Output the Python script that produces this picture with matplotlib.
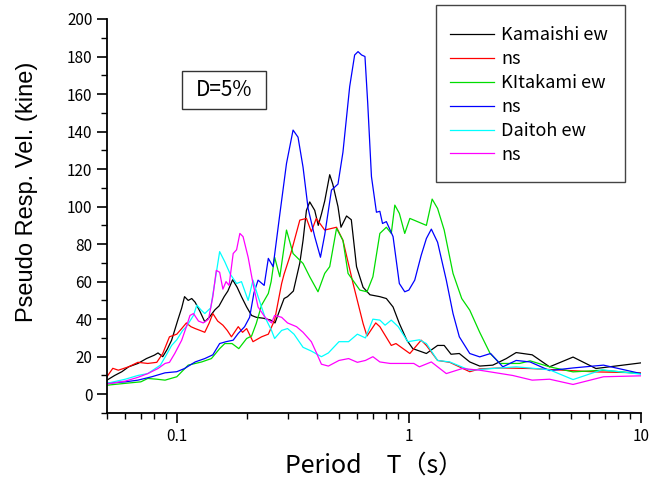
import numpy as np
import matplotlib
matplotlib.use("Agg")
import matplotlib.pyplot as plt
from matplotlib.patches import Rectangle
from matplotlib.ticker import MultipleLocator, FixedLocator, FixedFormatter, LogLocator, NullFormatter

plt.rcParams['font.family'] = ['Noto Sans CJK JP', 'DejaVu Sans']

# Kamaishi ew
t_kam_ew = [0.05, 0.054, 0.058, 0.062, 0.068, 0.074, 0.080, 0.083, 0.087, 0.091, 0.095,
            0.101, 0.105, 0.108, 0.112, 0.116, 0.12, 0.126, 0.132, 0.138, 0.146, 0.152,
            0.16, 0.166, 0.174, 0.182, 0.19, 0.2, 0.21, 0.22, 0.236, 0.254, 0.265, 0.278,
            0.29, 0.3, 0.318, 0.339, 0.35, 0.362, 0.374, 0.393, 0.407, 0.42, 0.434, 0.456,
            0.47, 0.495, 0.51, 0.539, 0.565, 0.595, 0.635, 0.68, 0.75, 0.8, 0.855, 0.91,
            0.98, 1.04, 1.19, 1.33, 1.42, 1.52, 1.65, 1.83, 2.02, 2.3, 2.63, 2.9, 3.4,
            4.04, 5.1, 6.4, 10.0]
v_kam_ew = [7.5, 10, 12, 14.6, 16.4, 19, 20.8, 22, 20, 24, 28.8,
            39.5, 46, 52, 50, 51, 49, 44, 38.6, 41, 45, 47,
            52, 55, 61, 57, 52, 46.5, 42, 41, 40.5, 39.5, 38, 45,
            51, 52, 55, 70, 82, 98, 102.5, 98, 90, 96, 103, 117,
            112, 100, 89, 95, 93, 68, 57, 53, 52, 51, 46.5, 37.7,
            28.8, 24.3, 21.7, 26, 26, 21.3, 21.7, 17.2, 15, 15.5, 19, 22.2, 21,
            14.6, 19.8, 13.7, 16.7]

# Kamaishi ns
t_kam_ns = [0.05, 0.053, 0.056, 0.062, 0.068, 0.075, 0.082, 0.087, 0.093, 0.1, 0.105,
            0.11, 0.115, 0.12, 0.126, 0.132, 0.138, 0.143, 0.15, 0.158, 0.165, 0.172,
            0.184, 0.192, 0.2, 0.213, 0.232, 0.248, 0.264, 0.283, 0.29, 0.31, 0.339,
            0.362, 0.38, 0.399, 0.434, 0.488, 0.52, 0.575, 0.635, 0.66, 0.72, 0.75, 0.84,
            0.88, 1.01, 1.13, 1.19, 1.33, 1.5, 1.83, 2.02, 2.5, 3.33, 6.4, 10.0]
v_kam_ns = [9.3, 13.8, 12.8, 14.6, 17, 16.4, 17, 21.7, 30.6, 32, 35,
            38, 36, 35, 34, 33, 38, 43, 39, 36.8, 34, 30.6,
            36, 33, 35, 28, 30.6, 32, 39.5, 59, 64, 75, 92.8,
            93.7, 86.6, 93.7, 87.5, 89, 82, 59, 37.7, 31, 38, 36, 26,
            27, 21.7, 28.8, 26, 18, 17, 12, 13.5, 14, 13.7, 11.9, 11.4]

# Kitakami ew
t_kit_ew = [0.05, 0.06, 0.07, 0.075, 0.082, 0.089, 0.1, 0.112, 0.128, 0.141, 0.153,
            0.161, 0.173, 0.185, 0.2, 0.21, 0.22, 0.232, 0.248, 0.255, 0.264, 0.278,
            0.297, 0.317, 0.35, 0.374, 0.406, 0.434, 0.456, 0.488, 0.52, 0.547, 0.615,
            0.66, 0.70, 0.75, 0.80, 0.84, 0.87, 0.91, 0.96, 1.01, 1.19, 1.26, 1.33,
            1.42, 1.55, 1.69, 1.83, 2.02, 2.24, 2.47, 3.0, 3.33, 4.04, 5.1, 6.8, 10.0]
v_kit_ew = [4.8, 5.8, 6.6, 8.4, 8, 7.5, 9.3, 15.5, 17.2, 19, 24.3,
            27, 27, 24.3, 29.7, 31, 37.7, 47.5, 53.7, 60, 73, 62.6,
            87.5, 75, 69.7, 62.6, 54.6, 64.4, 68, 88.4, 82, 64.4, 55.5,
            54.6, 62.6, 85.7, 89, 85.7, 100.8, 96.4, 85.7, 93.7, 90, 104, 99,
            87.5, 64.4, 51, 44.8, 33, 21.7, 16.4, 16.4, 17.8, 14.6, 11.9, 12.8, 11]

# Kitakami ns
t_kit_ns = [0.05, 0.06, 0.068, 0.078, 0.089, 0.1, 0.108, 0.12, 0.132, 0.143, 0.153,
            0.163, 0.175, 0.184, 0.196, 0.206, 0.215, 0.224, 0.238, 0.248, 0.26, 0.278,
            0.297, 0.317, 0.333, 0.35, 0.368, 0.393, 0.416, 0.434, 0.464, 0.495, 0.52,
            0.556, 0.584, 0.604, 0.626, 0.647, 0.665, 0.69, 0.725, 0.75, 0.77, 0.8,
            0.855, 0.91, 0.96, 1.0, 1.06, 1.13, 1.19, 1.25, 1.33, 1.45, 1.55, 1.65,
            1.83, 2.02, 2.25, 2.54, 2.9, 3.33, 4.04, 5.1, 6.9, 10.0]
v_kit_ns = [5.8, 6.6, 7.5, 9.3, 11.4, 12, 13.7, 17.2, 19, 21, 27,
            28, 28.8, 32.4, 36, 41, 54, 60.8, 58, 72.4, 68, 96,
            123, 140.8, 137, 121, 99, 84, 73, 85, 108.8, 112, 129,
            164, 180.8, 182.6, 180.8, 180, 155, 116, 97, 97.5, 91, 92,
            84, 59, 54.6, 55.5, 60.8, 74, 83, 88, 81, 60.8, 43, 30.6,
            21.7, 19.9, 21.7, 14.6, 18, 17.2, 12.6, 14, 15.5, 11]

# Daitoh ew
t_dai_ew = [0.05, 0.06, 0.068, 0.075, 0.085, 0.09, 0.095, 0.1, 0.106, 0.11, 0.118,
            0.122, 0.127, 0.132, 0.14, 0.146, 0.153, 0.161, 0.17, 0.181, 0.19, 0.203,
            0.213, 0.224, 0.24, 0.256, 0.264, 0.283, 0.3, 0.32, 0.35, 0.38, 0.42,
            0.45, 0.5, 0.55, 0.6, 0.65, 0.7, 0.75, 0.79, 0.84, 0.9, 0.99, 1.11,
            1.19, 1.33, 1.5, 1.83, 2.3, 2.9, 4.04, 5.1, 6.8, 10.0]
v_dai_ew = [5.8, 8, 10, 11, 15.5, 20.8, 26, 29, 34, 36, 42,
            47.5, 45, 43, 46, 60, 76, 70.6, 64, 59, 60, 50,
            60.8, 52, 41, 34, 29.7, 34, 35, 32, 25, 23, 20,
            22, 28, 28, 32, 30, 40, 39.5, 36.8, 39.5, 36, 28, 29,
            27, 18, 17.2, 12.8, 13.7, 14.6, 13, 7.8, 13, 10.7]

# Daitoh ns
t_dai_ns = [0.05, 0.06, 0.068, 0.075, 0.083, 0.089, 0.093, 0.098, 0.105, 0.11, 0.114,
            0.118, 0.124, 0.13, 0.137, 0.143, 0.148, 0.153, 0.158, 0.163, 0.168, 0.175,
            0.181, 0.187, 0.193, 0.203, 0.213, 0.224, 0.24, 0.256, 0.264, 0.283, 0.3,
            0.328, 0.35, 0.38, 0.4, 0.42, 0.45, 0.5, 0.55, 0.6, 0.65, 0.7, 0.75, 0.83,
            1.05, 1.11, 1.25, 1.45, 1.7, 2.02, 2.8, 3.4, 4.04, 5.1, 6.9, 10.0]
v_dai_ns = [5.5, 7, 9, 11, 13.7, 16.4, 17, 21.7, 28.8, 36, 42,
            43, 39, 38, 40, 52, 66, 65, 56, 60, 58, 75,
            77, 85.7, 84, 73, 59, 46.5, 41, 38, 42, 41, 38,
            36, 33, 28, 22, 16, 15, 18, 19, 17, 18, 20, 17.2, 16.4,
            16.4, 14.6, 17.2, 11, 13.7, 12.8, 10, 7.5, 8, 5.2, 9.3, 9.8]

series = [
    (t_kam_ew, v_kam_ew, '#000000', 'Kamaishi ew'),
    (t_kam_ns, v_kam_ns, '#ff0000', 'ns'),
    (t_kit_ew, v_kit_ew, '#00dd00', 'KItakami ew'),
    (t_kit_ns, v_kit_ns, '#0000ff', 'ns'),
    (t_dai_ew, v_dai_ew, '#00ffff', 'Daitoh ew'),
    (t_dai_ns, v_dai_ns, '#ff00ff', 'ns'),
]

W, H = 656, 487
fig = plt.figure(figsize=(W / 100, H / 100), dpi=100)
ax = fig.add_axes([0.163, 0.152, 0.814, 0.809])

for t, v, c, lab in series:
    ax.plot(t, v, color=c, lw=0.9, label=lab)

ax.set_xscale('log')
ax.set_xlim(0.05, 10)
ax.set_ylim(-10, 200)

ax.spines['top'].set_visible(False)
ax.spines['right'].set_visible(False)
ax.spines['left'].set_linewidth(1.3)
ax.spines['bottom'].set_linewidth(1.3)

ax.yaxis.set_major_locator(FixedLocator(np.arange(0, 201, 20)))
ax.yaxis.set_minor_locator(MultipleLocator(10))
ax.xaxis.set_major_locator(FixedLocator([0.1, 1, 10]))
ax.xaxis.set_major_formatter(FixedFormatter(['0.1', '1', '10']))
ax.xaxis.set_minor_locator(LogLocator(base=10, subs=np.arange(2, 10)))
ax.xaxis.set_minor_formatter(NullFormatter())
ax.tick_params(which='major', length=7, width=1.2, labelsize=11)
ax.tick_params(which='minor', length=4, width=1.0)

ax.set_xlabel('Period\u3000T\uff08s\uff09', fontsize=18, labelpad=6)
ax.set_ylabel('Pseudo Resp. Vel. (kine)', fontsize=17, family='Liberation Sans')
ax.yaxis.set_label_coords(-0.129, 0.561)

# D=5% box
fig.patches.append(Rectangle((182 / W, 1 - 109 / H), 84 / W, 38 / H,
                             transform=fig.transFigure, fc='white', ec='#333333', lw=1.0))
fig.text(224 / W, 1 - 90 / H, 'D=5%', fontsize=15, ha='center', va='center')

# legend with a hand-placed frame
fig.patches.append(Rectangle((436 / W, 1 - 182 / H), 189 / W, 177 / H,
                             transform=fig.transFigure, fc='white', ec='#444444', lw=1.0))
leg = fig.legend(loc='upper left', bbox_to_anchor=(450 / W, 1 - 26 / H), fontsize=13,
                 frameon=False, handlelength=2.44, handletextpad=0.39, labelspacing=0.33,
                 borderpad=0, borderaxespad=0)

fig.savefig('out.png', dpi=100)
